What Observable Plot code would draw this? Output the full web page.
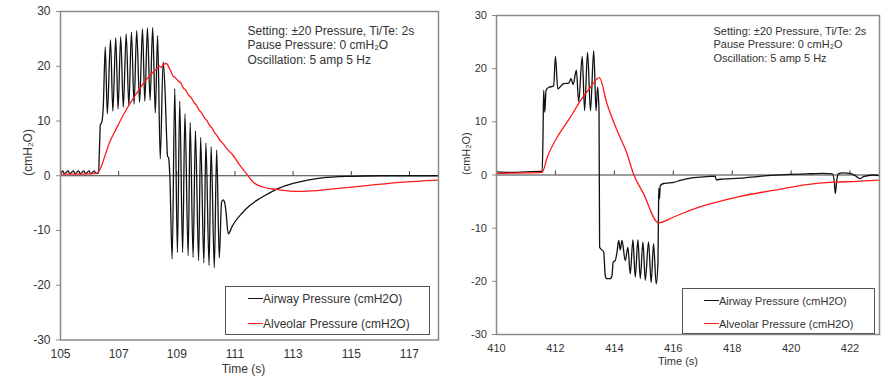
<!DOCTYPE html>
<html>
<head>
<meta charset="utf-8">
<script src="https://cdn.jsdelivr.net/npm/d3@7"></script>
<script src="https://cdn.jsdelivr.net/npm/@observablehq/plot@0.6"></script>
<style>
  html, body { margin: 0; padding: 0; background: #fff; }
  #wrap { position: relative; width: 884px; height: 379px; font-family: 'Liberation Sans', Arial, sans-serif; }
  .panel { position: absolute; top: 0; }
  .legend { position: absolute; box-sizing: border-box; border: 1px solid #555; background: #fff; color: #333; }
  .legend .row { position: absolute; left: 0; height: 14px; line-height: 14px; white-space: nowrap; }
  .legend .sw { position: absolute; top: 6px; width: 15px; height: 0; border-top: 1.5px solid; }
  .legend .lb { position: absolute; top: 0; }
</style>
</head>
<body>
<div id="wrap">
  <div id="left" class="panel" style="left:0"></div>
  <div id="right" class="panel" style="left:440px"></div>
</div>
<script>
// ---------- data ----------
const seriesNames = ["Airway Pressure (cmH2O)", "Alveolar Pressure (cmH2O)"];
const seriesColors = ["#111111", "#ff1a1a"];
const yTicks = [-30, -20, -10, 0, 10, 20, 30];
const xTicksLeft = [105, 107, 109, 111, 113, 115, 117];
const xTicksRight = [410, 412, 414, 416, 418, 420, 422];
const xDomainLeft = [105, 118];
const xDomainRight = [410, 423];
const annotationText = "Setting: \u00b120 Pressure, Ti/Te: 2s\nPause Pressure: 0 cmH\u2082O\nOscillation: 5 amp 5 Hz";
const yLabel = "(cmH\u2082O)";
const xLabel = "Time (s)";

// left panel: [time (s), pressure (cmH2O)]
const airwayLeft = [
  [105.00,0.4],[105.08,0.9],[105.13,0.35],[105.26,0.9],[105.32,0.35],[105.44,0.9],[105.50,0.35],
  [105.62,0.9],[105.68,0.35],[105.80,0.9],[105.86,0.35],[105.98,0.9],[106.04,0.35],[106.16,0.9],
  [106.22,0.4],[106.31,0.5],[106.34,5.0],[106.37,9.3],[106.42,9.8],[106.47,12.5],
  [106.54,23.5],[106.61,11.3],[106.72,24.8],[106.80,11.8],[106.90,25.2],[106.98,12.2],
  [107.07,25.4],[107.16,12.5],[107.26,25.9],[107.35,12.8],[107.44,26.2],[107.53,13.1],
  [107.62,26.5],[107.72,13.4],[107.82,26.8],[107.90,13.6],[107.99,27.0],[108.08,13.8],
  [108.17,27.1],[108.26,11.5],[108.34,25.6],[108.43,3.1],[108.53,20.8],[108.60,15.0],
  [108.65,7.0],[108.68,3.6],[108.72,3.2],[108.76,0.0],[108.84,-15.2],[108.93,15.9],
  [109.02,-14.0],[109.10,13.6],[109.20,-14.0],[109.28,11.3],[109.39,-14.6],[109.46,9.7],
  [109.56,-14.9],[109.64,8.2],[109.75,-15.5],[109.82,7.0],[109.93,-15.9],[110.00,6.0],
  [110.11,-16.4],[110.18,5.3],[110.29,-16.8],[110.37,4.7],[110.46,-15.0],[110.54,-4.8],
  [110.59,-4.4],[110.65,-5.0],[110.69,-6.5],[110.77,-10.6],[110.90,-9.3],[111.00,-8.4],
  [111.25,-6.8],[111.50,-5.5],[111.75,-4.5],[112.00,-3.7],[112.50,-2.3],[113.00,-1.4],
  [113.50,-0.8],[114.00,-0.4],[115.00,-0.1],[116.00,0.0],[118.00,0.0]
];
const alveolarLeft = [
  [105.00,0.3],[105.50,0.3],[106.00,0.35],[106.22,0.45],[106.32,0.8],[106.42,1.9],[106.52,3.5],
  [106.69,6.1],[106.92,8.6],[107.15,11.0],[107.38,13.1],[107.61,15.0],[107.84,16.8],
  [108.07,18.3],[108.30,19.5],[108.41,20.0],[108.47,19.8],[108.52,20.2],[108.64,20.5],
  [108.75,19.6],[108.87,18.2],[108.95,17.9],[109.05,17.3],[109.13,17.0],[109.23,16.0],
  [109.31,15.6],[109.41,14.7],[109.49,14.3],[109.59,13.4],[109.67,12.9],[109.77,12.0],
  [109.85,11.5],[109.95,10.6],[110.03,10.1],[110.13,9.2],[110.21,8.7],[110.31,7.8],
  [110.39,7.3],[110.49,6.4],[110.57,6.0],[110.71,5.0],[110.94,3.7],[111.17,1.9],
  [111.40,0.35],[111.63,-1.2],[111.98,-2.1],[112.44,-2.5],[112.90,-2.8],[113.24,-2.85],
  [113.82,-2.7],[114.39,-2.4],[115.54,-1.8],[116.69,-1.2],[118.00,-0.8]
];

// right panel
const airwayRight = [
  [410.00,0.6],[410.50,0.5],[411.00,0.6],[411.50,0.7],[411.55,0.7],[411.58,8.0],[411.60,15.9],
  [411.64,11.8],[411.68,15.9],[411.77,16.5],[411.94,16.7],[412.00,22.3],[412.08,16.2],
  [412.28,17.2],[412.45,17.3],[412.53,18.1],[412.60,17.0],[412.71,19.7],[412.79,13.8],
  [412.91,22.3],[412.99,12.1],[413.09,23.1],[413.19,12.1],[413.30,23.4],[413.38,12.1],
  [413.43,16.5],[413.48,12.0],[413.50,-13.6],[413.64,-14.5],[413.69,-18.9],[413.74,-19.5],
  [413.86,-19.5],[413.92,-18.9],[413.96,-16.4],[414.03,-16.1],[414.09,-14.5],[414.15,-12.3],
  [414.20,-14.1],[414.26,-12.3],[414.37,-16.1],[414.46,-13.6],[414.54,-18.6],[414.63,-12.2],
  [414.71,-19.2],[414.80,-12.2],[414.88,-19.5],[414.97,-12.6],[415.05,-19.8],[415.16,-12.6],
  [415.25,-20.2],[415.33,-12.9],[415.42,-20.5],[415.48,-16.5],[415.50,-6.0],[415.51,-2.5],
  [415.53,-4.5],[415.56,-2.0],[415.67,-1.6],[415.85,-1.5],[416.01,-1.4],[416.24,-1.0],
  [416.69,-0.5],[417.14,-0.3],[417.42,-0.2],[417.46,-0.9],[417.60,-0.8],[418.27,-0.6],
  [419.00,-0.2],[419.97,0.1],[420.50,0.2],[421.10,0.3],[421.40,0.2],[421.47,-1.5],
  [421.50,-3.5],[421.55,-1.0],[421.60,0.2],[421.75,0.4],[422.00,0.3],[422.20,-0.2],
  [422.34,-0.7],[422.45,-0.3],[422.79,0.0],[423.00,-0.1]
];
const alveolarRight = [
  [410.00,0.3],[410.50,0.35],[411.00,0.4],[411.55,0.5],[411.72,3.3],[412.06,7.1],[412.28,9.0],
  [412.51,10.9],[412.85,14.0],[413.19,16.5],[413.49,18.3],[413.75,13.4],[414.09,8.4],
  [414.43,4.0],[414.65,0.2],[414.99,-3.5],[415.50,-9.0],[416.01,-7.9],[416.69,-6.4],
  [417.48,-5.1],[418.27,-4.0],[419.40,-2.9],[420.53,-1.8],[421.43,-1.35],[422.23,-1.2],
  [422.79,-1.0],[423.00,-0.95]
];

// ---------- drawing ----------
function panel(cfg) {
  return Plot.plot({
    width: cfg.width, height: 379,
    marginLeft: cfg.ml, marginRight: cfg.mr, marginTop: cfg.mt, marginBottom: cfg.mb,
    x: {domain: cfg.xDomain},
    y: {domain: [-30, 30]},
    style: {fontFamily: "'Liberation Sans', Arial, sans-serif", fontSize: cfg.fs + "px", color: "#333", background: "#fff", overflow: "visible"},
    marks: [
      Plot.ruleY([0], {stroke: "#3a3a3a", strokeWidth: 1}),
      Plot.ruleX(cfg.xTicks, {x: d => d, y1: () => 0, y2: () => 0.75, stroke: "#3a3a3a"}),
      Plot.line(cfg.airway, {x: d => d[0], y: d => d[1], stroke: seriesColors[0], strokeWidth: 1.3, curve: "monotone-x"}),
      Plot.line(cfg.alveolar, {x: d => d[0], y: d => d[1], stroke: seriesColors[1], strokeWidth: 1.3, curve: "monotone-x"}),
      Plot.frame({stroke: "#8a8a8a", strokeWidth: 1.5}),
      Plot.axisY({ticks: yTicks, tickSize: 4, tickPadding: cfg.ytp, tickFormat: d => String(d), stroke: "#8a8a8a", fill: "#333", label: null}),
      Plot.axisX({ticks: cfg.xTicks, tickSize: 0, tickPadding: cfg.xtp, tickFormat: d => String(d), fill: "#333", label: null}),
      Plot.text([xLabel], {frameAnchor: "bottom", dy: cfg.xlDy, dx: cfg.xlDx, fill: "#333"}),
      Plot.text([yLabel], {frameAnchor: "left", dx: cfg.ylDx, rotate: -90, fill: "#333"}),
      Plot.text([annotationText], {frameAnchor: "top-left", dx: cfg.anDx, dy: cfg.anDy, textAnchor: "start", lineAnchor: "top", lineHeight: cfg.anLh, fill: "#333"})
    ]
  });
}

document.getElementById("left").appendChild(panel({
  width: 440, ml: 60, mr: 2, mt: 11, mb: 39.5, fs: 12, ytp: 6, xtp: 9,
  xDomain: xDomainLeft, xTicks: xTicksLeft,
  airway: airwayLeft, alveolar: alveolarLeft,
  xlDy: 33, xlDx: -6, ylDx: -32, anDx: 187, anDy: 12.8, anLh: 1.22
}));
document.getElementById("right").appendChild(panel({
  width: 444, ml: 56, mr: 5, mt: 15, mb: 45, fs: 11, ytp: 5.5, xtp: 10,
  xDomain: xDomainRight, xTicks: xTicksRight,
  airway: airwayRight, alveolar: alveolarRight,
  xlDy: 30, xlDx: -10, ylDx: -30, anDx: 217, anDy: 9.7, anLh: 1.23
}));

// legends
function legend(box) {
  const wrap = document.getElementById("wrap");
  const div = document.createElement("div");
  div.className = "legend";
  Object.assign(div.style, {left: box.left + "px", top: box.top + "px", width: box.w + "px", height: box.h + "px", fontSize: box.fs + "px"});
  seriesNames.forEach((name, i) => {
    const row = document.createElement("div");
    row.className = "row";
    row.style.top = (box.rows[i] - 7) + "px";
    const sw = document.createElement("div");
    sw.className = "sw";
    sw.style.left = box.sw + "px";
    sw.style.borderTopColor = seriesColors[i];
    const lb = document.createElement("div");
    lb.className = "lb";
    lb.style.left = (box.sw + 15) + "px";
    lb.textContent = name;
    row.appendChild(sw); row.appendChild(lb);
    div.appendChild(row);
  });
  wrap.appendChild(div);
}
legend({left: 225, top: 286, w: 205, h: 49, rows: [12, 37], sw: 22, fs: 12});
legend({left: 682, top: 288, w: 193, h: 46, rows: [12, 35], sw: 21, fs: 11});
</script>
</body>
</html>
